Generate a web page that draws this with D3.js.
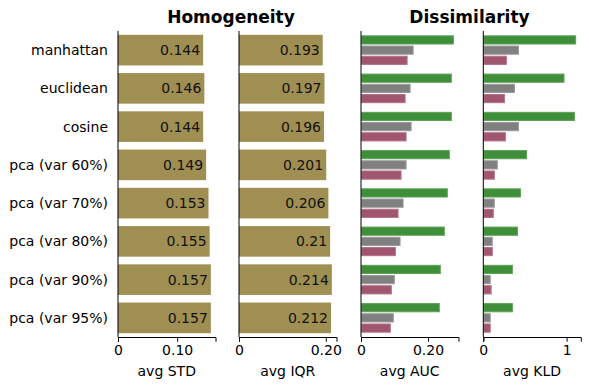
<!DOCTYPE html>
<html>
<head>
<meta charset="utf-8">
<script src="https://cdn.jsdelivr.net/npm/d3@7"></script>
<style>
  body { margin: 0; background: #fff; }
  svg { font-family: "DejaVu Sans", sans-serif; }
</style>
</head>
<body>
<script>
// data
var categories = ["manhattan", "euclidean", "cosine", "pca (var 60%)", "pca (var 70%)",
                  "pca (var 80%)", "pca (var 90%)", "pca (var 95%)"];
var stdVals = [0.144, 0.146, 0.144, 0.149, 0.153, 0.155, 0.157, 0.157];
var iqrVals = [0.193, 0.197, 0.196, 0.201, 0.206, 0.21, 0.214, 0.212];
var aucGreen = [0.277, 0.271, 0.271, 0.265, 0.259, 0.250, 0.238, 0.235];
var aucGray  = [0.157, 0.148, 0.151, 0.136, 0.127, 0.118, 0.101, 0.098];
var aucPink  = [0.139, 0.133, 0.136, 0.121, 0.112, 0.104, 0.092, 0.089];
var kldGreen = [1.115, 0.975, 1.10, 0.525, 0.452, 0.416, 0.355, 0.355];
var kldGray  = [0.428, 0.380, 0.428, 0.174, 0.138, 0.114, 0.089, 0.089];
var kldPink  = [0.283, 0.259, 0.271, 0.138, 0.126, 0.114, 0.10, 0.089];
var stdTicks = [0, 0.1];
var iqrTicks = [0, 0.2];
var aucTicks = [0, 0.2];
var kldTicks = [0, 1];

var width = 589, height = 390;
var plotTop = 31, plotBottom = 337;
var panelW = 97.5;
var fs = 14;

var svg = d3.select("body")
        .append("svg")
        .attr("width", width)
        .attr("height", height);

var y = d3.scaleBand()
        .domain(categories)
        .range([plotTop, plotBottom])
        .paddingInner(0.2)
        .paddingOuter(0.1);

var fmt = function(d) {
    if (d === 0) return "0";
    if (d === 1) return "1";
    return d3.format(".2f")(d);
};

function panel(left, maxVal, ticks, label) {
    var x = d3.scaleLinear()
            .domain([0, maxVal * 1.05])
            .range([left, left + panelW]);
    var g = svg.append("g");
    var ax = g.append("g")
            .attr("transform", "translate(0," + plotBottom + ")")
            .call(d3.axisBottom(x).tickValues(ticks).tickFormat(fmt).tickSizeOuter(0).tickSize(4.7).tickPadding(3.5));
    ax.select(".domain").attr("stroke", "#000").attr("stroke-width", 1);
    ax.selectAll(".tick line").attr("stroke", "#000");
    ax.selectAll("text").attr("font-size", fs).attr("fill", "#000")
        .attr("font-family", "DejaVu Sans, sans-serif");
    g.append("text")
        .attr("x", left + panelW / 2)
        .attr("y", 376)
        .attr("text-anchor", "middle")
        .attr("font-size", fs)
        .text(label);
    return { x: x, g: g };
}

function leftSpine(p, left) {
    p.g.append("line")
        .attr("x1", left).attr("x2", left)
        .attr("y1", plotTop).attr("y2", plotBottom)
        .attr("stroke", "#000")
        .attr("stroke-width", 1);
}

// Homogeneity panels
function simplePanel(left, vals, ticks, label) {
    var p = panel(left, d3.max(vals), ticks, label);
    p.g.selectAll("rect.bar")
        .data(vals)
        .enter()
        .append("rect")
        .attr("class", "bar")
        .attr("x", left)
        .attr("y", function(d, i) { return y(categories[i]); })
        .attr("width", function(d) { return p.x(d) - left; })
        .attr("height", y.bandwidth())
        .attr("fill", "#a08f52");
    p.g.selectAll("text.val")
        .data(vals)
        .enter()
        .append("text")
        .attr("class", "val")
        .attr("x", function(d) { return p.x(d) - 3; })
        .attr("y", function(d, i) { return y(categories[i]) + y.bandwidth() / 2; })
        .attr("dy", "0.35em")
        .attr("text-anchor", "end")
        .attr("font-size", fs)
        .attr("fill", "#111")
        .text(function(d) { return d; });
    leftSpine(p, left);
    return p;
}

function groupPanel(left, series, ticks, label) {
    var maxVal = d3.max(series, function(s) { return d3.max(s); });
    var p = panel(left, maxVal, ticks, label);
    var colors = ["#3f8e3a", "#808080", "#a0566f"];
    var edges = ["#5ea356", "#9a9a9a", "#b57088"];
    var sub = d3.scaleBand()
            .domain([0, 1, 2])
            .range([0, y.bandwidth()]);
    series.forEach(function(vals, k) {
        p.g.selectAll("rect.s" + k)
            .data(vals)
            .enter()
            .append("rect")
            .attr("class", "s" + k)
            .attr("x", left + 0.5)
            .attr("y", function(d, i) { return y(categories[i]) + sub(k) + 1; })
            .attr("width", function(d) { return p.x(d) - left - 1; })
            .attr("height", sub.bandwidth() - 2)
            .attr("fill", colors[k])
            .attr("stroke", edges[k])
            .attr("stroke-width", 1);
    });
    leftSpine(p, left);
    return p;
}

simplePanel(118, stdVals, stdTicks, "avg STD");
simplePanel(239, iqrVals, iqrTicks, "avg IQR");
groupPanel(361, [aucGreen, aucGray, aucPink], aucTicks, "avg AUC");
groupPanel(483.3, [kldGreen, kldGray, kldPink], kldTicks, "avg KLD");

// category labels
svg.selectAll("text.cat")
    .data(categories)
    .enter()
    .append("text")
    .attr("class", "cat")
    .attr("x", 108)
    .attr("y", function(d) { return y(d) + y.bandwidth() / 2; })
    .attr("dy", "0.35em")
    .attr("text-anchor", "end")
    .attr("font-size", fs)
    .attr("fill", "#000")
    .text(function(d) { return d; });

// titles
svg.append("text")
    .attr("x", 231)
    .attr("y", 23)
    .attr("text-anchor", "middle")
    .attr("font-size", 17)
    .attr("font-weight", "bold")
    .text("Homogeneity");

svg.append("text")
    .attr("x", 469.5)
    .attr("y", 23)
    .attr("text-anchor", "middle")
    .attr("font-size", 17)
    .attr("font-weight", "bold")
    .text("Dissimilarity");
</script>
</body>
</html>
